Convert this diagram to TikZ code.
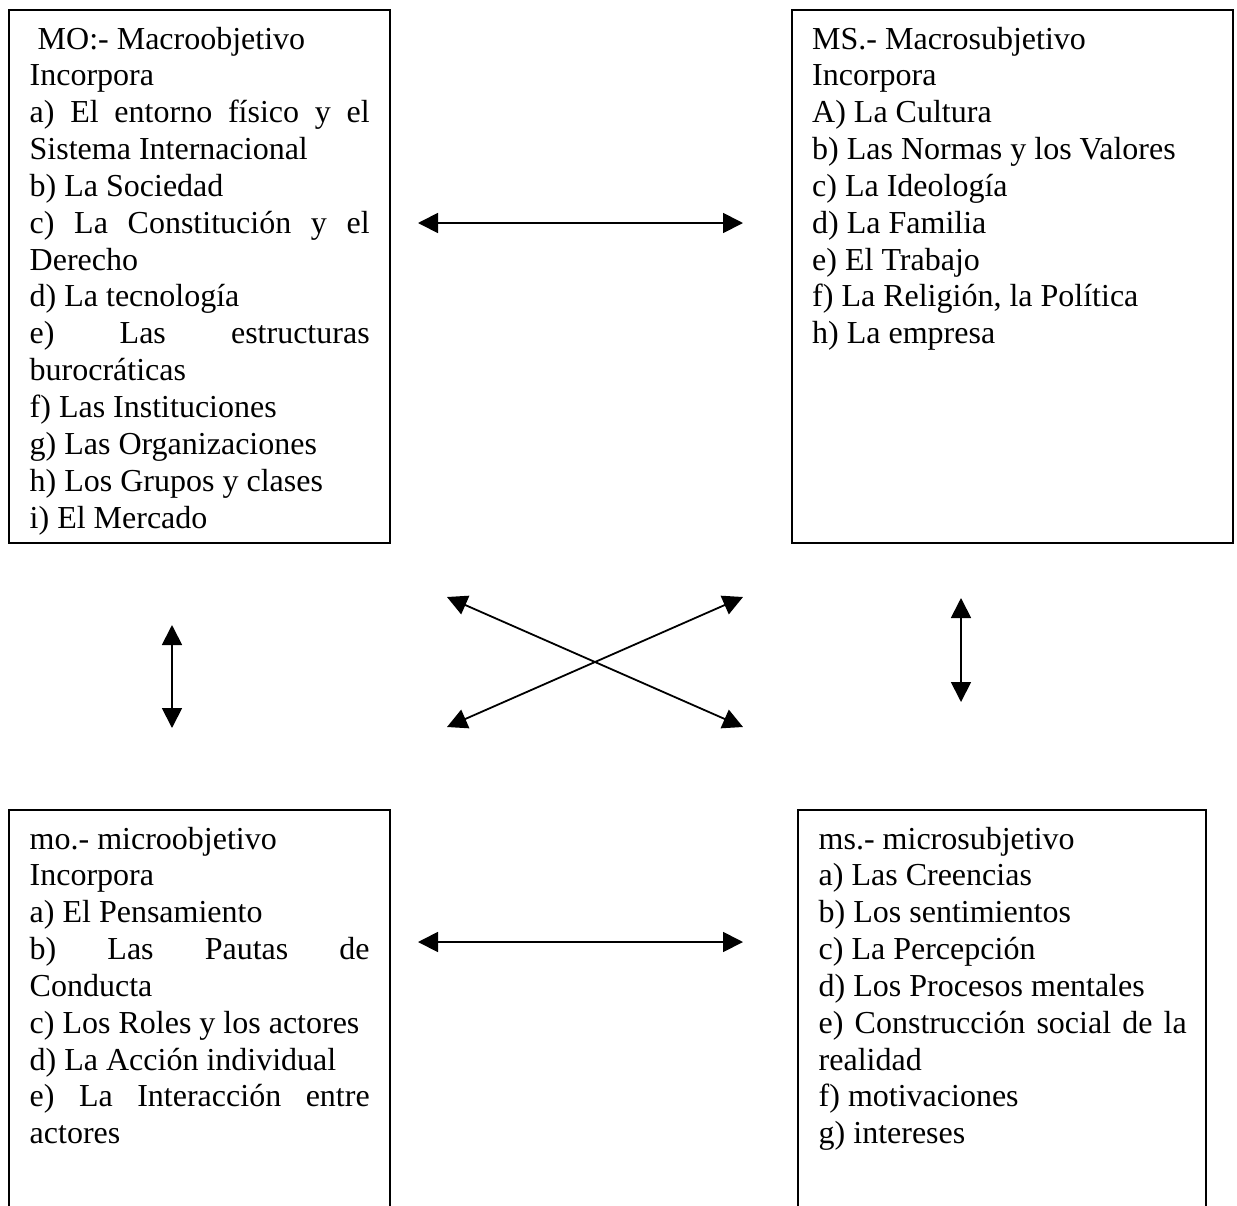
\documentclass[tikz,border=0pt]{standalone}
\usepackage{fontspec}
\setmainfont{Liberation Serif}
\usetikzlibrary{arrows.meta}
\newcommand{\boxfont}{\fontsize{32}{36.85}\selectfont}
\newcommand{\jl}[2]{\makebox[#1][l]{#2}}
\newcommand{\gap}{\hfill}
\newcommand{\ws}{\hspace{8pt}}
\hyphenpenalty=10000
\exhyphenpenalty=10000
\begin{document}
\begin{tikzpicture}[x=1pt,y=-1pt,
  box/.style={draw, line width=1.8pt, anchor=north west, inner sep=0pt, outer sep=0pt},
  txt/.style={anchor=base west, inner sep=0pt, font=\boxfont},
  link/.style={line width=1.8pt, {Triangle[length=20pt,width=20pt]}-{Triangle[length=20pt,width=20pt]}}]
\useasboundingbox (0,0) rectangle (1237,1205);
\clip (0,0) rectangle (1237,1205);

% boxes
\node[box, minimum width=381pt, minimum height=533pt] (MO) at (9,10) {};
\node[box, minimum width=441pt, minimum height=533pt] (MS) at (792,10) {};
\node[box, minimum width=381pt, minimum height=430pt] (mo) at (9,810) {};
\node[box, minimum width=408pt, minimum height=430pt] (ms) at (798,810) {};

% texts
\node[txt, text width=400pt] (MOt) at (29.5,49) {\hspace*{8pt}MO:-\ws Macroobjetivo\\
Incorpora\\
\jl{340pt}{a)\gap El\gap entorno\gap físico\gap y\gap el}\\
Sistema\ws Internacional\\
b)\ws La\ws Sociedad\\
\jl{340pt}{c)\gap La\gap Constitución\gap y\gap el}\\
Derecho\\
d)\ws La\ws tecnología\\
\jl{340pt}{e)\gap Las\gap estructuras}\\
burocráticas\\
f)\ws Las\ws Instituciones\\
g)\ws Las\ws Organizaciones\\
h)\ws Los\ws Grupos\ws y\ws clases\\
i)\ws El\ws Mercado};

\node[txt, text width=420pt] (MSt) at (812,49) {MS.-\ws Macrosubjetivo\\
Incorpora\\
A)\ws La\ws Cultura\\
b)\ws Las\ws Normas\ws y\ws los\ws Valores\\
c)\ws La\ws Ideología\\
d)\ws La\ws Familia\\
e)\ws El\ws Trabajo\\
f)\ws La\ws Religión,\ws la\ws Política\\
h)\ws La\ws empresa};

\node[txt, text width=400pt] (mot) at (29.5,849) {mo.-\ws microobjetivo\\
Incorpora\\
a)\ws El\ws Pensamiento\\
\jl{340pt}{b)\gap Las\gap Pautas\gap de}\\
Conducta\\
c)\ws Los\ws Roles\ws y\ws los\ws actores\\
d)\ws La\ws Acción\ws individual\\
\jl{340pt}{e)\gap La\gap Interacción\gap entre}\\
actores};

\node[txt, text width=400pt] (mst) at (818.5,849) {ms.-\ws microsubjetivo\\
a)\ws Las\ws Creencias\\
b)\ws Los\ws sentimientos\\
c)\ws La\ws Percepción\\
d)\ws Los\ws Procesos\ws mentales\\
\jl{368pt}{e)\gap Construcción\gap social\gap de\gap la}\\
realidad\\
f)\ws motivaciones\\
g)\ws intereses};

% arrow end points
\coordinate (ta) at (418,223);
\coordinate (tb) at (743,223);
\coordinate (ba) at (418,942);
\coordinate (bb) at (743,942);
\coordinate (la) at (172,625);
\coordinate (lb) at (172,728);
\coordinate (ra) at (961,598);
\coordinate (rb) at (961,702);
\coordinate (xtl) at (447,597);
\coordinate (xbr) at (743,727);
\coordinate (xtr) at (743,597);
\coordinate (xbl) at (447,727);

\draw[link] (ta) -- (tb);
\draw[link] (ba) -- (bb);
\draw[link] (la) -- (lb);
\draw[link] (ra) -- (rb);
\draw[link] (xtl) -- (xbr);
\draw[link] (xtr) -- (xbl);
\end{tikzpicture}
\end{document}
